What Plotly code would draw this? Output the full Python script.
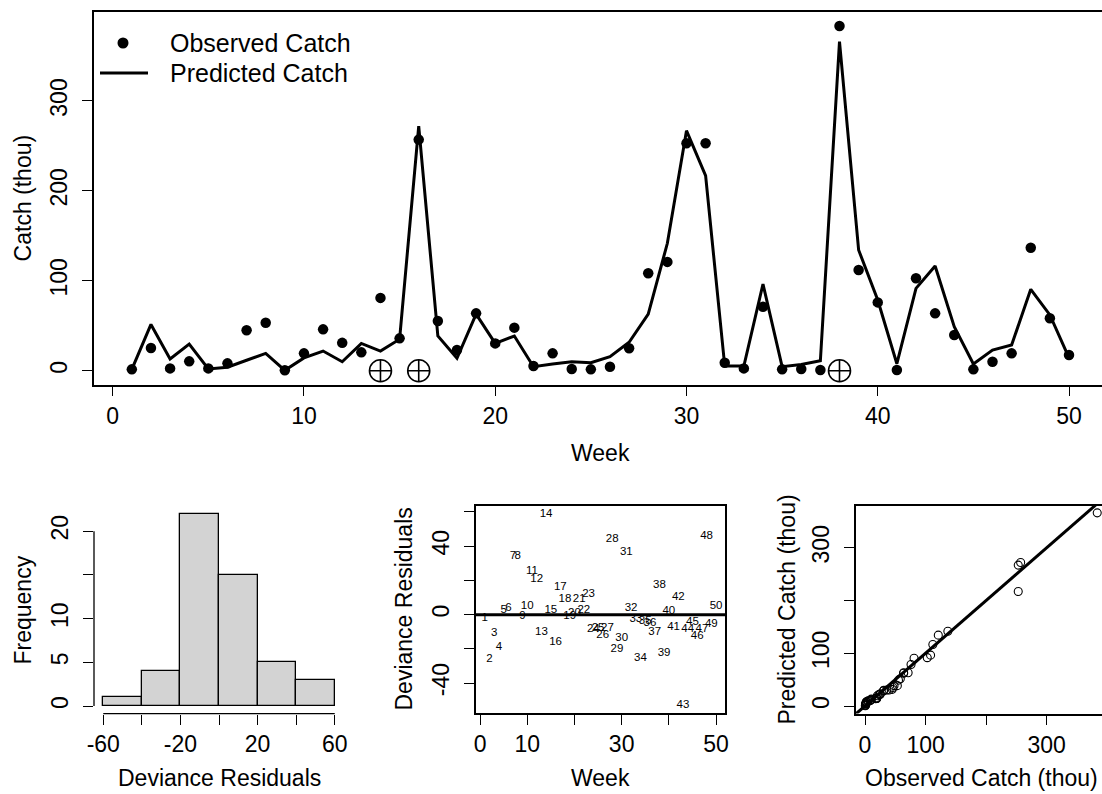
import plotly.graph_objects as go

# ---------------- data ----------------
weeks = list(range(1, 51))
observed = [1.5, 25.2, 2.6, 10.4, 2.6, 8.2, 45, 53.4, 0.5, 19.3,
            46, 31, 20.4, 81, 36, 257, 55.3, 23, 63.8, 30.4,
            47.9, 5.2, 19.3, 1.9, 1.5, 4.5, 24.9, 108.3, 121, 253,
            253, 8.9, 2.6, 71.2, 1.5, 1.9, 0.8, 383.4, 112, 76,
            0.8, 102.8, 63.8, 39.7, 1.5, 10, 19.3, 136.8, 58.3, 17.5]
predicted = [1.5, 51.5, 13, 29.7, 2, 3.9, 11.6, 19.3, 0.5, 14.2,
             21.9, 10, 30.4, 21.9, 35, 272, 38.6, 13.8, 63, 30.4,
             38.6, 4.5, 7.5, 10, 8.9, 15.6, 31.6, 63, 141.7, 267,
             217, 5.2, 5.2, 96.4, 4.5, 7, 11.1, 366, 134.3, 78.6,
             7.8, 91.6, 116.5, 49, 7.5, 23, 28.6, 90.5, 62, 14.2]
flag_weeks = [14, 16, 38]
flag_y = [0, 0, 0]
residuals = [-1.9, -26.2, -10.7, -19, 2.5, 3.9, 34.4, 34.4, -0.6, 4.9,
             25.3, 20.8, -10.3, 58.9, 2.9, -16.1, 15.9, 9.1, -0.6, 0.8,
             9.1, 2.5, 11.7, -8.2, -7.8, -11.7, -7.8, 44.3, -20.4, -13.6,
             36.3, 3.9, -2.9, -25.5, -3.9, -5.2, -10.1, 17.5, -22.7, 1.9,
             -7.4, 10.1, -53.1, -8.7, -4.5, -12.6, -8.7, 46.1, -5.4, 4.9]
legend_labels = ["Observed Catch", "Predicted Catch"]

# tick definitions
top_xticks = [0, 10, 20, 30, 40, 50]
top_yticks = [0, 100, 200, 300]
hist_xticks = [-60, -40, -20, 0, 20, 40, 60]
hist_xtext = ["-60", "", "-20", "", "20", "", "60"]
hist_yticks = [0, 5, 10, 15, 20]
hist_ytext = ["0", "5", "10", "", "20"]
mid_xticks = [0, 10, 20, 30, 40, 50]
mid_xtext = ["0", "10", "", "30", "", "50"]
mid_yticks = [-40, -20, 0, 20, 40, 60]
mid_ytext = ["-40", "", "0", "", "40", ""]
qq_ticks = [0, 100, 200, 300]
qq_text = ["0", "100", "", "300"]

# ---------------- layout helpers ----------------
W, H = 1102, 794
FONT = "Liberation Sans, Arial, Helvetica, sans-serif"
FS = 23
XSO = 0   # x tick label standoff
YSO = 6   # y tick label standoff


def xdom(l, r):
    return [l / W, min(r / W, 1.0)]


def ydom(top, bottom):
    return [(H - bottom) / H, (H - top) / H]


def px(xp):
    return xp / W


def py(yp):
    return (H - yp) / H


fig = go.Figure()

# ---- top panel ----
fig.add_trace(go.Scatter(x=weeks, y=predicted, mode="lines", name=legend_labels[1],
                         line=dict(color="black", width=3), xaxis="x", yaxis="y",
                         showlegend=False))
fig.add_trace(go.Scatter(x=weeks, y=observed, mode="markers", name=legend_labels[0],
                         marker=dict(color="black", size=10.5), xaxis="x", yaxis="y",
                         showlegend=False))
fig.add_trace(go.Scatter(x=flag_weeks, y=flag_y, mode="markers",
                         marker=dict(symbol="circle-cross-open", size=22, color="black",
                                     line=dict(width=1.6, color="black")),
                         xaxis="x", yaxis="y", showlegend=False, cliponaxis=False))

# ---- histogram ----
fig.add_trace(go.Histogram(x=residuals, xbins=dict(start=-60, end=60, size=20),
                           marker=dict(color="#d3d3d3", line=dict(color="black", width=1.3)),
                           xaxis="x3", yaxis="y3", showlegend=False))

# ---- residuals vs week ----
fig.add_trace(go.Scatter(x=weeks, y=residuals, mode="text", text=[str(w) for w in weeks],
                         textfont=dict(family=FONT, size=11.5, color="black"),
                         textposition="middle center",
                         xaxis="x2", yaxis="y2", showlegend=False))

# ---- sorted observed vs sorted predicted ----
fig.add_trace(go.Scatter(x=[-50, 500], y=[-50, 500], mode="lines",
                         line=dict(color="black", width=3),
                         xaxis="x4", yaxis="y4", showlegend=False))
fig.add_trace(go.Scatter(x=sorted(observed), y=sorted(predicted), mode="markers",
                         marker=dict(symbol="circle-open", size=8, color="black",
                                     line=dict(width=1.1, color="black")),
                         xaxis="x4", yaxis="y4", showlegend=False))

axis_common = dict(showgrid=False, zeroline=False, ticks="outside", ticklen=10,
                   tickwidth=1.3, tickcolor="black", linecolor="black", automargin=False,
                   tickfont=dict(family=FONT, size=FS, color="black"))

fig.update_layout(
    template="none",
    width=W, height=H, margin=dict(l=0, r=0, t=0, b=0, pad=0),
    paper_bgcolor="white", plot_bgcolor="white",
    font=dict(family=FONT, size=FS, color="black"),
    bargap=0, showlegend=False,
    xaxis=dict(domain=xdom(94, 1102), range=[-0.978, 51.725], tickvals=top_xticks,
               showline=True, mirror=True, linewidth=1.5, anchor="y",
               ticklabelstandoff=XSO, **axis_common),
    yaxis=dict(domain=ydom(12.3, 384.5), range=[-15.33, 398.6], tickvals=top_yticks,
               showline=True, mirror=True, linewidth=1.5, tickangle=-90, anchor="x",
               ticklabelstandoff=YSO, **axis_common),
    xaxis3=dict(domain=xdom(94, 344), range=[-64.8, 64.8], tickvals=hist_xticks,
                ticktext=hist_xtext, showline=False, anchor="y3",
                ticklabelstandoff=XSO, **axis_common),
    yaxis3=dict(domain=ydom(506, 713.7), range=[-0.88, 22.88], tickvals=hist_yticks,
                ticktext=hist_ytext, showline=False, tickangle=-90, anchor="x3",
                ticklabelstandoff=YSO, **axis_common),
    xaxis2=dict(domain=xdom(475.5, 725.3), range=[-0.96, 51.96], tickvals=mid_xticks,
                ticktext=mid_xtext, showline=True, mirror=True, linewidth=1.5,
                anchor="y2", ticklabelstandoff=XSO, **axis_common),
    yaxis2=dict(domain=ydom(506, 713), range=[-57.5, 63.5], tickvals=mid_yticks,
                ticktext=mid_ytext, showline=True, mirror=True, linewidth=1.5,
                tickangle=-90, anchor="x2", ticklabelstandoff=YSO, **axis_common),
    xaxis4=dict(domain=xdom(856, 1102), range=[-14.86, 391.3], tickvals=qq_ticks,
                ticktext=qq_text, showline=True, mirror=True, linewidth=1.5,
                anchor="y4", ticklabelstandoff=XSO, **axis_common),
    yaxis4=dict(domain=ydom(506, 713.5), range=[-14.2, 379.0], tickvals=qq_ticks,
                ticktext=qq_text, showline=True, mirror=True, linewidth=1.5,
                tickangle=-90, anchor="x4", ticklabelstandoff=YSO, **axis_common),
)

# histogram axis lines (span first to last tick)
fig.add_shape(type="line", xref="x3", yref="y3 domain", x0=-60, x1=60, y0=0, y1=0,
              line=dict(color="black", width=1.3))
fig.add_shape(type="line", xref="x3 domain", yref="y3", x0=0, x1=0, y0=0, y1=20,
              line=dict(color="black", width=1.3))
# zero reference line in residual panel
fig.add_shape(type="line", xref="x2 domain", yref="y2", x0=0, x1=1, y0=0, y1=0,
              line=dict(color="black", width=3))

# ---- legend (drawn like R's legend) ----
fig.add_shape(type="circle", xref="paper", yref="paper",
              x0=px(117.5), x1=px(128.5), y0=py(48.5), y1=py(37.5),
              fillcolor="black", line=dict(color="black", width=0))
fig.add_shape(type="line", xref="paper", yref="paper",
              x0=px(100), x1=px(148), y0=py(73), y1=py(73),
              line=dict(color="black", width=3))
for lab, yp in zip(legend_labels, [43, 73]):
    fig.add_annotation(text=lab, x=px(168), y=py(yp), xref="paper", yref="paper",
                       showarrow=False, xanchor="left", yanchor="middle",
                       font=dict(family=FONT, size=25, color="black"))


def title(text, xpx, ypx, angle=0):
    fig.add_annotation(text=text, x=px(xpx), y=py(ypx), xref="paper", yref="paper",
                       showarrow=False, textangle=angle, xanchor="center", yanchor="middle",
                       font=dict(family=FONT, size=FS, color="black"))


title("Catch (thou)", 23, 198.4, -90)
title("Week", 600, 453)
title("Frequency", 22.5, 610, -90)
title("Deviance Residuals", 219, 778)
title("Deviance Residuals", 403, 609.5, -90)
title("Week", 600.5, 778)
title("Predicted Catch (thou)", 786, 609.5, -90)
title("Observed Catch (thou)", 981, 778)

fig.write_html("out.html")
